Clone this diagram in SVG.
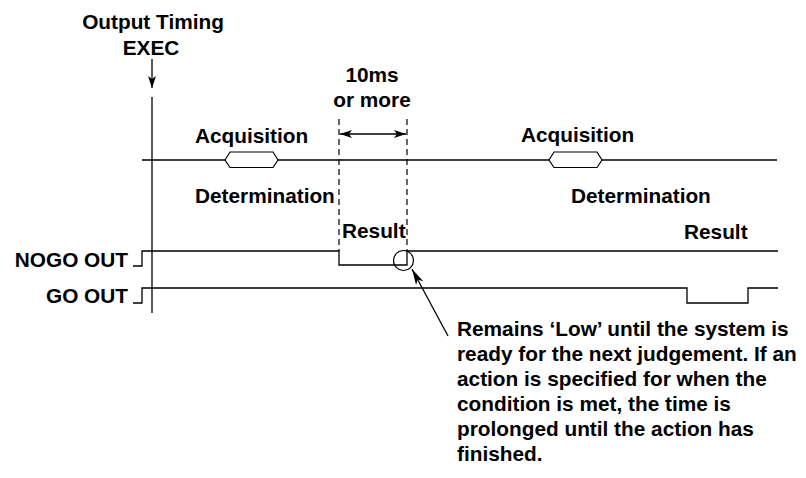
<svg xmlns="http://www.w3.org/2000/svg" width="806" height="478" viewBox="0 0 806 478">
<style>
text{font-family:"Liberation Sans",Arial,sans-serif;font-weight:bold;font-size:20.8px;fill:#000}
.ln{fill:none;stroke:#000;stroke-width:1.3}
.dash{fill:none;stroke:#000;stroke-width:1.2;stroke-dasharray:6 4}
.hex{fill:#fff;stroke:#000;stroke-width:1.2}
</style>
<defs>
<marker id="ah" viewBox="0 0 12 8" refX="12" refY="4" markerWidth="12" markerHeight="8" markerUnits="userSpaceOnUse" orient="auto-start-reverse">
<path d="M0,0 L12,4 L0,8 L3,4 Z" fill="#000"/>
</marker>
<marker id="ah2" viewBox="0 0 16 8" refX="16" refY="4" markerWidth="16" markerHeight="8" markerUnits="userSpaceOnUse" orient="auto-start-reverse">
<path d="M0,0 L16,4 L0,8 L4,4 Z" fill="#000"/>
</marker>
</defs>
<rect width="806" height="478" fill="#fff"/>
<g id="labels">
<text x="153" y="28.5" text-anchor="middle">Output Timing</text>
<text x="151" y="55" text-anchor="middle">EXEC</text>
<text x="372" y="82" text-anchor="middle">10ms</text>
<text x="372" y="107" text-anchor="middle">or more</text>
<text x="195" y="143">Acquisition</text>
<text x="521" y="142">Acquisition</text>
<text x="195" y="203">Determination</text>
<text x="571" y="203">Determination</text>
<text x="342" y="238">Result</text>
<text x="684" y="239">Result</text>
<text x="128" y="267" text-anchor="end">NOGO OUT</text>
<text x="128" y="303" text-anchor="end">GO OUT</text>
</g>
<g id="connectors">
<line class="ln" x1="152" y1="59" x2="152" y2="88" marker-end="url(#ah)"/>
<line class="ln" x1="152" y1="97" x2="152" y2="313"/>
<line class="ln" x1="142" y1="160" x2="777" y2="160"/>
<line class="dash" x1="339" y1="119" x2="339" y2="251"/>
<line class="dash" x1="407" y1="119" x2="407" y2="251"/>
<line class="ln" x1="340" y1="134" x2="406" y2="134" marker-start="url(#ah)" marker-end="url(#ah)"/>
<polyline class="ln" points="133,266 142,266 142,251 339,251 339,265 407,265 407,251 778,251"/>
<polyline class="ln" points="133,303 142,303 142,288 687,288 687,303 748,303 748,288 778,288"/>
<line class="ln" x1="448" y1="336" x2="412" y2="269" marker-end="url(#ah2)"/>
</g>
<g id="acq1"><polygon class="hex" points="225,160 230,152 273,152 278,160 273,167.5 230,167.5"/></g>
<g id="acq2"><polygon class="hex" points="549,160 554,152 597,152 602,160 597,167.5 554,167.5"/></g>
<g id="mark"><circle cx="403.5" cy="260.5" r="10" fill="none" stroke="#000" stroke-width="1.2"/></g>
<g id="note">
<text x="457" y="336">Remains ‘Low’ until the system is</text>
<text x="457" y="361">ready for the next judgement. If an</text>
<text x="457" y="386">action is specified for when the</text>
<text x="457" y="411">condition is met, the time is</text>
<text x="457" y="436">prolonged until the action has</text>
<text x="457" y="461">finished.</text>
</g>
</svg>
